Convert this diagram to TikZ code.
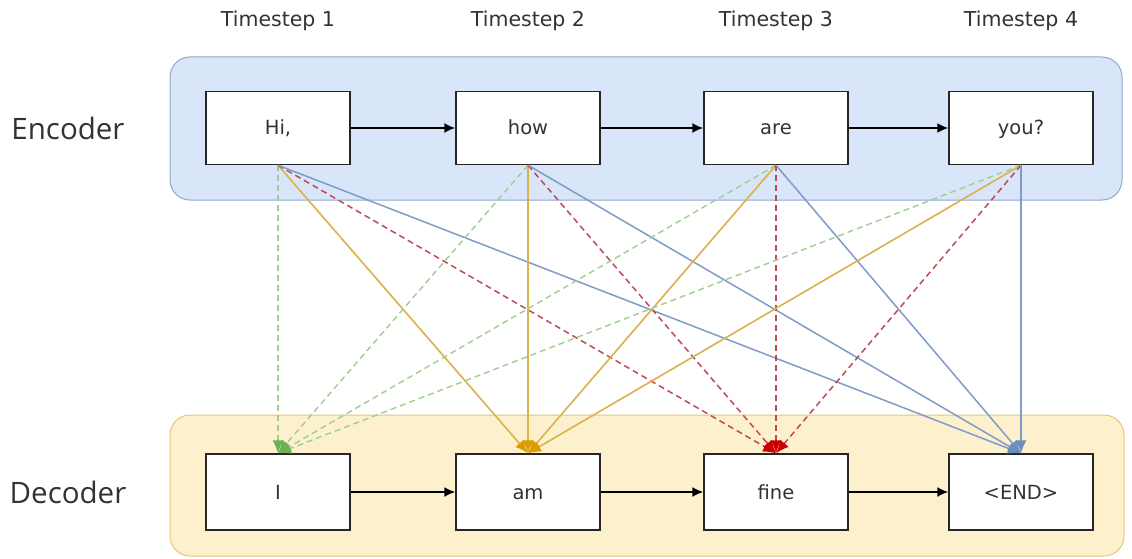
\documentclass[tikz,border=0pt]{standalone}
\usepackage{fontspec}
\setmainfont{DejaVu Sans}
\newfontfamily\sidefont{Open Sans}
\usetikzlibrary{arrows.meta}
\definecolor{encfill}{HTML}{D9E5F8}
\definecolor{encdraw}{HTML}{8FA9CC}
\definecolor{decfill}{HTML}{FDF0CC}
\definecolor{decdraw}{HTML}{E2C77E}
\definecolor{gline}{HTML}{9FCF8E}
\definecolor{gtip}{HTML}{6FAF55}
\definecolor{yline}{HTML}{D9B24C}
\definecolor{ytip}{HTML}{DC9C00}
\definecolor{rline}{HTML}{BE4A55}
\definecolor{rtip}{HTML}{CC0000}
\definecolor{bline}{HTML}{7F9CC6}
\definecolor{btip}{HTML}{6C8EBF}
\definecolor{txt}{HTML}{333333}
\begin{document}
\begin{tikzpicture}[x=1pt,y=-1pt,
  container/.style={rounded corners=20pt, line width=1pt},
  wordbox/.style={draw=black!85, fill=white, line width=1.4pt, minimum width=144pt, minimum height=73pt, inner sep=0pt, text height=14pt, text depth=0pt, font=\fontsize{19.5}{23}\selectfont, text=txt},
  steplabel/.style={font=\fontsize{20.5}{24}\selectfont, text=txt},
  sidelabel/.style={font=\sidefont\fontsize{29.5}{34}\selectfont, text=txt},
  seqarrow/.style={draw=black, line width=1.8pt, -{Latex[length=11pt,width=10pt]}},
  toI/.style={draw=gline, line width=1.4pt, dash pattern=on 6pt off 4pt, -{Latex[length=13pt,width=11pt,color=gtip]}},
  toam/.style={draw=yline, line width=1.6pt, -{Latex[length=13pt,width=11pt,color=ytip]}},
  tofine/.style={draw=rline, line width=1.5pt, dash pattern=on 6pt off 4pt, -{Latex[length=13pt,width=11pt,color=rtip]}},
  toend/.style={draw=bline, line width=1.5pt, -{Latex[length=13pt,width=11pt,color=btip]}}
]
\useasboundingbox (0,0) rectangle (1132,559);
\fill[white] (0,0) rectangle (1132,559);

% containers
\draw[container, fill=encfill, draw=encdraw] (170,57) rectangle (1122,200);
\draw[container, fill=decfill, draw=decdraw] (170,415) rectangle (1124,556);

% labels
\node[sidelabel] (enc) at (68,128) {Encoder};
\node[sidelabel] (dec) at (68,492) {Decoder};
\node[steplabel] (t1) at (278,21) {Timestep 1};
\node[steplabel] (t2) at (528,21) {Timestep 2};
\node[steplabel] (t3) at (776,21) {Timestep 3};
\node[steplabel] (t4) at (1021,21) {Timestep 4};

% encoder boxes
\node[wordbox] (e1) at (278,128) {Hi,};
\node[wordbox] (e2) at (528,128) {how};
\node[wordbox] (e3) at (776,128) {are};
\node[wordbox] (e4) at (1021,128) {you?};

% decoder boxes
\node[wordbox, minimum height=76pt] (d1) at (278,492) {I};
\node[wordbox, minimum height=76pt] (d2) at (528,492) {am};
\node[wordbox, minimum height=76pt] (d3) at (776,492) {fine};
\node[wordbox, minimum height=76pt] (d4) at (1021,492) {<END>};

% attention connectors
\foreach \s in {e1,e2,e3,e4} {
  \draw[toI] (\s.south) -- (d1.north);
  \draw[toam] (\s.south) -- (d2.north);
  \draw[tofine] (\s.south) -- (d3.north);
  \draw[toend] (\s.south) -- (d4.north);
}

% sequence arrows
\draw[seqarrow] (e1) -- (e2);
\draw[seqarrow] (e2) -- (e3);
\draw[seqarrow] (e3) -- (e4);
\draw[seqarrow] (d1) -- (d2);
\draw[seqarrow] (d2) -- (d3);
\draw[seqarrow] (d3) -- (d4);
\end{tikzpicture}
\end{document}
